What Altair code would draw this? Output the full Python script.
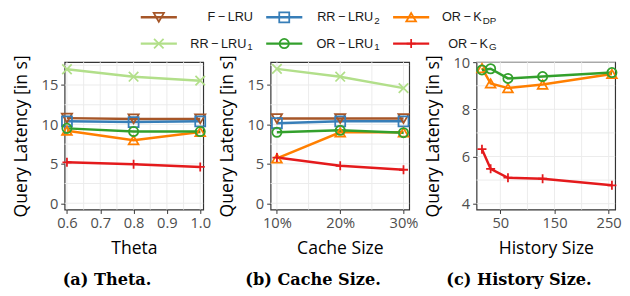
import altair as alt
import pandas as pd

# ---------------- data ----------------
SERIES = ["F-LRU", "RR-LRU2", "OR-KDP", "RR-LRU1", "OR-LRU1", "OR-KG"]
COLORS = ["#A65628", "#377EB8", "#FF7F00", "#B2DF8A", "#33A02C", "#E41A1C"]
PLUS = "M-1,0L1,0M0,-1L0,1"
XMARK = "M-1,-1L1,1M-1,1L1,-1"
SHAPES = ["triangle-down", "square", "triangle-up", XMARK, "circle", PLUS]
SIZES = [110, 85, 110, 130, 85, 200]

# legend labels (main text + subscript)
LEG_MAIN = ["F\u2009\u2212\u2009LRU", "RR\u2009\u2212\u2009LRU", "OR\u2009\u2212\u2009K",
            "RR\u2009\u2212\u2009LRU", "OR\u2009\u2212\u2009LRU", "OR\u2009\u2212\u2009K"]
LEG_SUB = ["", "2", "DP", "1", "1", "G"]

# (a) Theta
theta = [0.6, 0.8, 1.0]
theta_flru = [10.8, 10.7, 10.7]
theta_rrlru2 = [10.4, 10.3, 10.4]
theta_orkdp = [9.2, 8.0, 9.05]
theta_rrlru1 = [17.0, 16.05, 15.55]
theta_orlru1 = [9.5, 9.1, 9.1]
theta_orkg = [5.2, 4.95, 4.6]

# (b) Cache size (%)
cache = [10, 20, 30]
cache_flru = [10.75, 10.75, 10.75]
cache_rrlru2 = [10.15, 10.4, 10.4]
cache_orkdp = [5.7, 9.0, 9.0]
cache_rrlru1 = [17.05, 16.05, 14.6]
cache_orlru1 = [9.0, 9.25, 8.95]
cache_orkg = [5.8, 4.75, 4.25]

# (c) History size
history = [16, 32, 64, 128, 256]
hist_orkdp = [9.75, 9.1, 8.9, 9.05, 9.5]
hist_orlru1 = [9.67, 9.72, 9.31, 9.39, 9.56]
hist_orkg = [6.31, 5.48, 5.1, 5.06, 4.78]

CAPTIONS = ["(a) Theta.", "(b) Cache Size.", "(c) History Size."]

# ---------------- style ----------------
W, H = 142, 151
FONT = "Open Sans"
GRID = "#EBEBEB"
cscale = alt.Scale(domain=SERIES, range=COLORS)
sscale = alt.Scale(domain=SERIES, range=SHAPES)
zscale = alt.Scale(domain=SERIES, range=SIZES)


def long_df(x, series_dict):
    rows = []
    for s, vals in series_dict.items():
        for xv, yv in zip(x, vals):
            rows.append({"series": s, "x": xv, "y": yv})
    return pd.DataFrame(rows)


def panel(df, xdom, ydom, xticks, yticks, xgrid, ygrid, xtitle, caption, xlabelexpr=None):
    xs = alt.Scale(domain=xdom, nice=False, zero=False)
    ys = alt.Scale(domain=ydom, nice=False, zero=False)
    xaxis_kw = dict(values=xticks, grid=False, domain=False, tickColor="#333333", tickSize=4,
                    labelFont=FONT, labelFontSize=15, labelColor="#4D4D4D", labelPadding=2,
                    labelFlush=False, titleFont=FONT, titleFontSize=18, titleFontWeight="normal",
                    titleColor="black", titlePadding=10, title=xtitle)
    if xlabelexpr:
        xaxis_kw["labelExpr"] = xlabelexpr
    xaxis = alt.Axis(**xaxis_kw)
    yaxis = alt.Axis(values=yticks, grid=False, domain=False, tickColor="#333333", tickSize=4,
                     labelFont=FONT, labelFontSize=15, labelColor="#4D4D4D", labelPadding=3,
                     labelFlush=False, titleFont=FONT, titleFontSize=18, titleFontWeight="normal",
                     titleColor="black", titlePadding=11, title="Query Latency [in s]")
    gx = alt.Chart(pd.DataFrame({"v": xgrid})).mark_rule(color=GRID, strokeWidth=1).encode(
        x=alt.X("v:Q", scale=xs, axis=xaxis), y=alt.value(0), y2=alt.value(H))
    gy = alt.Chart(pd.DataFrame({"v": ygrid})).mark_rule(color=GRID, strokeWidth=1).encode(
        y=alt.Y("v:Q", scale=ys, axis=yaxis), x=alt.value(0), x2=alt.value(W))
    base = alt.Chart(df).encode(
        x=alt.X("x:Q", scale=xs, axis=xaxis),
        y=alt.Y("y:Q", scale=ys, axis=yaxis),
        color=alt.Color("series:N", scale=cscale, legend=None),
    )
    lines = base.mark_line(strokeWidth=2.5).encode(detail="series:N", order="x:Q")
    pts = base.mark_point(filled=False, strokeWidth=1.8, opacity=1).encode(
        shape=alt.Shape("series:N", scale=sscale, legend=None),
        size=alt.Size("series:N", scale=zscale, legend=None),
    )
    cap = alt.Chart(pd.DataFrame({"t": [caption]})).mark_text(
        align="center", baseline="alphabetic", font="DejaVu Serif", fontSize=16.5,
        fontWeight="bold", color="black").encode(
        text="t:N", x=alt.value(43.5), y=alt.value(228))
    return alt.layer(gx, gy, lines, pts, cap).properties(width=W, height=H)


df_a = long_df(theta, {"F-LRU": theta_flru, "RR-LRU2": theta_rrlru2, "OR-KDP": theta_orkdp,
                       "RR-LRU1": theta_rrlru1, "OR-LRU1": theta_orlru1, "OR-KG": theta_orkg})
df_b = long_df(cache, {"F-LRU": cache_flru, "RR-LRU2": cache_rrlru2, "OR-KDP": cache_orkdp,
                       "RR-LRU1": cache_rrlru1, "OR-LRU1": cache_orlru1, "OR-KG": cache_orkg})
df_c = long_df(history, {"OR-KDP": hist_orkdp, "OR-LRU1": hist_orlru1, "OR-KG": hist_orkg})

ya = [-0.8, 17.9]
pa = panel(df_a, [0.593, 1.009], ya, [0.6, 0.7, 0.8, 0.9, 1.0], [0, 5, 10, 15],
           [0.6 + 0.05 * i for i in range(9)], [2.5 * i for i in range(8)], "Theta", CAPTIONS[0])
pb = panel(df_b, [9.0, 30.9], ya, [10, 20, 30], [0, 5, 10, 15],
           [10, 15, 20, 25, 30], [2.5 * i for i in range(8)], "Cache Size", CAPTIONS[1],
           xlabelexpr="datum.value + '%'")
pc = panel(df_c, [6, 262], [3.75, 10.0], [50, 150, 250], [4, 6, 8, 10],
           [50, 100, 150, 200, 250], [4, 5, 6, 7, 8, 9, 10], "History Size", CAPTIONS[2])

# ---------------- legend (drawn above the middle panel, px relative to its plot origin) -----
LEG_CX = [-114.5, 14, 144]       # symbol centres per column
LEG_R = [-18, 112, 232]          # right edge of label per column
LEG_ROWY = [-46, -19]
SEG = 18.5
CHARW = {"1": 5.8, "2": 5.8, "D": 7.6, "P": 7.0, "G": 8.2}
leg_rows = []
for i, s in enumerate(SERIES):
    col, row = i % 3, i // 3
    subw = sum(CHARW.get(c, 6) for c in LEG_SUB[i])
    leg_rows.append({
        "series": s, "cx": LEG_CX[col], "x0": LEG_CX[col] - SEG, "x1": LEG_CX[col] + SEG,
        "y": LEG_ROWY[row], "ys": LEG_ROWY[row] + 4,
        "main": LEG_MAIN[i], "sub": LEG_SUB[i],
        "tx": LEG_R[col] - subw - (1 if subw else 0), "sx": LEG_R[col] - subw,
    })
ldf = pd.DataFrame(leg_rows)
lx = alt.Scale(domain=[0, W], nice=False, zero=False)
ly = alt.Scale(domain=[0, H], nice=False, zero=False, reverse=True)
lbase = alt.Chart(ldf)
lseg = lbase.mark_rule(strokeWidth=2.5).encode(
    x=alt.X("x0:Q", scale=lx, axis=None), x2="x1:Q", y=alt.Y("y:Q", scale=ly, axis=None),
    color=alt.Color("series:N", scale=cscale, legend=None))
lpts = lbase.mark_point(filled=False, strokeWidth=1.8, opacity=1).encode(
    x=alt.X("cx:Q", scale=lx, axis=None), y=alt.Y("y:Q", scale=ly, axis=None),
    color=alt.Color("series:N", scale=cscale, legend=None),
    shape=alt.Shape("series:N", scale=sscale, legend=None),
    size=alt.Size("series:N", scale=zscale, legend=None))
ltxt = lbase.mark_text(align="right", baseline="middle", font="Liberation Sans", fontSize=13,
                       color="#1A1A1A").encode(
    x=alt.X("tx:Q", scale=lx, axis=None), y=alt.Y("y:Q", scale=ly, axis=None), text="main:N")
lsub = lbase.mark_text(align="left", baseline="middle", font="Liberation Sans", fontSize=10,
                       color="#1A1A1A").encode(
    x=alt.X("sx:Q", scale=lx, axis=None), y=alt.Y("ys:Q", scale=ly, axis=None), text="sub:N")
legend = alt.layer(lseg, lpts, ltxt, lsub)

pb_full = alt.layer(pb, legend).resolve_scale(x="independent", y="independent")

chart = alt.hconcat(pa, pb_full, pc, spacing=69, bounds="flush").properties(
    padding={"left": 4, "top": -4, "right": 0, "bottom": 0}
).configure_view(stroke="#333333", strokeWidth=1.2)

chart.save("out.html", embed_options={"renderer": "svg", "actions": False})
